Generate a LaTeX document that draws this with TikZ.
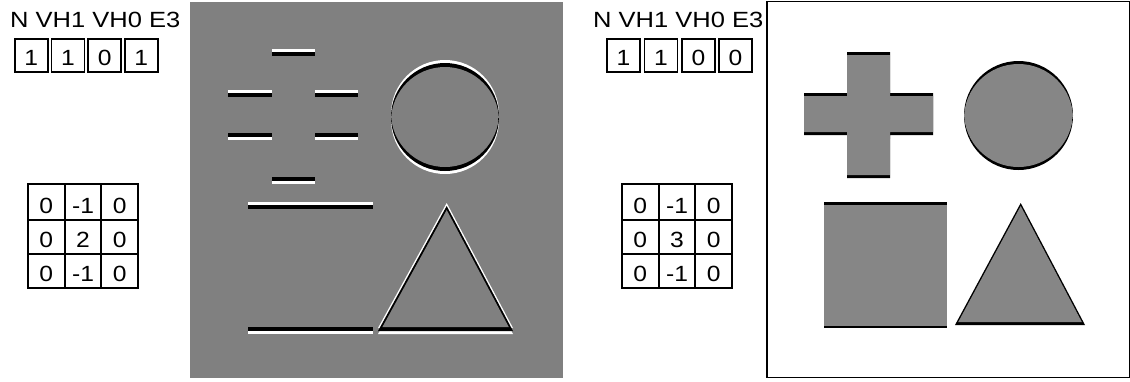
\documentclass[tikz,border=0pt]{standalone}
\usepackage{fontspec}
\setmainfont{Liberation Sans}
\usepackage{graphicx}
\definecolor{midgray}{HTML}{808080}
\definecolor{shapegray}{HTML}{868686}
\newcommand\hstretch[1]{\scalebox{1.12}[1]{#1}}
\newcommand\tstretch[1]{\scalebox{1.16}[1]{#1}}
% left (filtered) panel: curved / slanted shapes
\newcommand\LCirc{(445,117) circle [radius=54]}
\newcommand\LTri{(446.7,206) -- (513,331) -- (378,331) -- cycle}
% right (sharpened) panel shapes
\newcommand\RPlus{(847,52) -- (890,52) -- (890,93) -- (933,93) -- (933,135) -- (890,135) -- (890,178) -- (847,178) -- (847,135) -- (804,135) -- (804,93) -- (847,93) -- cycle}
\newcommand\RCirc{(1018.5,115.5) circle [radius=54.5]}
\newcommand\RSquare{(824,202) rectangle (947,328)}
\newcommand\RTri{(1020.7,203) -- (1085,325) -- (955,325) -- cycle}
\newcommand\filteredshape[1]{%
  \fill[white,shift={(0,-3)}] #1;
  \fill[white,shift={(0,3)}] #1;
  \fill[black] #1;
  \begin{scope}
    \clip[shift={(0,-4)}] #1;
    \fill[midgray,shift={(0,4)}] #1;
  \end{scope}}
% horizontal edges of the filtered image: top edge (white above, black below)
\newcommand\topedge[3]{%
  \fill[white] (#1,#3-3) rectangle (#2,#3);
  \fill[black] (#1,#3) rectangle (#2,#3+4);}
% bottom edge (black above, white below)
\newcommand\botedge[3]{%
  \fill[black] (#1,#3-4) rectangle (#2,#3);
  \fill[white] (#1,#3) rectangle (#2,#3+3);}
\newcommand\sharpshape[1]{%
  \fill[black] #1;
  \begin{scope}
    \clip[shift={(0,-3)}] #1;
    \fill[shapegray,shift={(0,3)}] #1;
  \end{scope}}
\tikzset{
  txt/.style={font=\fontsize{22pt}{26pt}\selectfont, inner sep=0pt},
  flagbox/.style={txt, draw, line width=1.7pt, anchor=north west, minimum width=33pt, text height=27pt, text depth=6pt},
  cellA/.style={txt, draw, line width=1.9pt, anchor=north west, minimum width=36.7pt, text height=30pt, text depth=6pt},
  cellB/.style={txt, draw, line width=1.9pt, anchor=north west, minimum width=36.7pt, text height=28pt, text depth=6pt},
}
\begin{document}
\begin{tikzpicture}[x=1pt,y=-1pt]
\useasboundingbox (0,0) rectangle (1130,381);
\fill[white] (0,0) rectangle (1130,381);

% ---------- left: labels ----------
\node[txt, anchor=base west] (ltitle) at (10,27) {\tstretch{N VH1 VH0 E3}};
\node[flagbox] (lb1) at (14,38) {\hstretch{1}};
\node[flagbox] (lb2) at (50.7,38) {\hstretch{1}};
\node[flagbox] (lb3) at (87.3,38) {\hstretch{0}};
\node[flagbox] (lb4) at (124,38) {\hstretch{1}};

% left kernel
\node[cellA] (lk11) at (27,183) {\hstretch{0}};
\node[cellA] (lk12) at (63.7,183) {\hstretch{-1}};
\node[cellA] (lk13) at (100.4,183) {\hstretch{0}};
\node[cellB] (lk21) at (27,219) {\hstretch{0}};
\node[cellB] (lk22) at (63.7,219) {\hstretch{2}};
\node[cellB] (lk23) at (100.4,219) {\hstretch{0}};
\node[cellB] (lk31) at (27,253) {\hstretch{0}};
\node[cellB] (lk32) at (63.7,253) {\hstretch{-1}};
\node[cellB] (lk33) at (100.4,253) {\hstretch{0}};

% ---------- left: filtered image ----------
\fill[midgray] (190,2) rectangle (563,378);
% plus
\topedge{272}{315}{52}
\topedge{228}{272}{93}
\topedge{315}{358}{93}
\botedge{228}{272}{137}
\botedge{315}{358}{137}
\botedge{272}{315}{181}
% square
\topedge{248}{373}{205}
\botedge{248}{373}{331}
% circle and triangle
\filteredshape{\LCirc}
\filteredshape{\LTri}

% ---------- right: labels ----------
\node[txt, anchor=base west] (rtitle) at (593,27) {\tstretch{N VH1 VH0 E3}};
\node[flagbox] (rb1) at (606,38) {\hstretch{1}};
\node[flagbox] (rb2) at (643.5,38) {\hstretch{1}};
\node[flagbox] (rb3) at (681,38) {\hstretch{0}};
\node[flagbox] (rb4) at (718,38) {\hstretch{0}};

% right kernel
\node[cellA] (rk11) at (621,183) {\hstretch{0}};
\node[cellA] (rk12) at (657.7,183) {\hstretch{-1}};
\node[cellA] (rk13) at (694.4,183) {\hstretch{0}};
\node[cellB] (rk21) at (621,219) {\hstretch{0}};
\node[cellB] (rk22) at (657.7,219) {\hstretch{3}};
\node[cellB] (rk23) at (694.4,219) {\hstretch{0}};
\node[cellB] (rk31) at (621,253) {\hstretch{0}};
\node[cellB] (rk32) at (657.7,253) {\hstretch{-1}};
\node[cellB] (rk33) at (694.4,253) {\hstretch{0}};

% ---------- right: sharpened image ----------
\draw[line width=1.5pt] (767,1.5) rectangle (1129.3,377.5);
\sharpshape{\RPlus}
\sharpshape{\RCirc}
\sharpshape{\RSquare}
\sharpshape{\RTri}
\end{tikzpicture}
\end{document}
